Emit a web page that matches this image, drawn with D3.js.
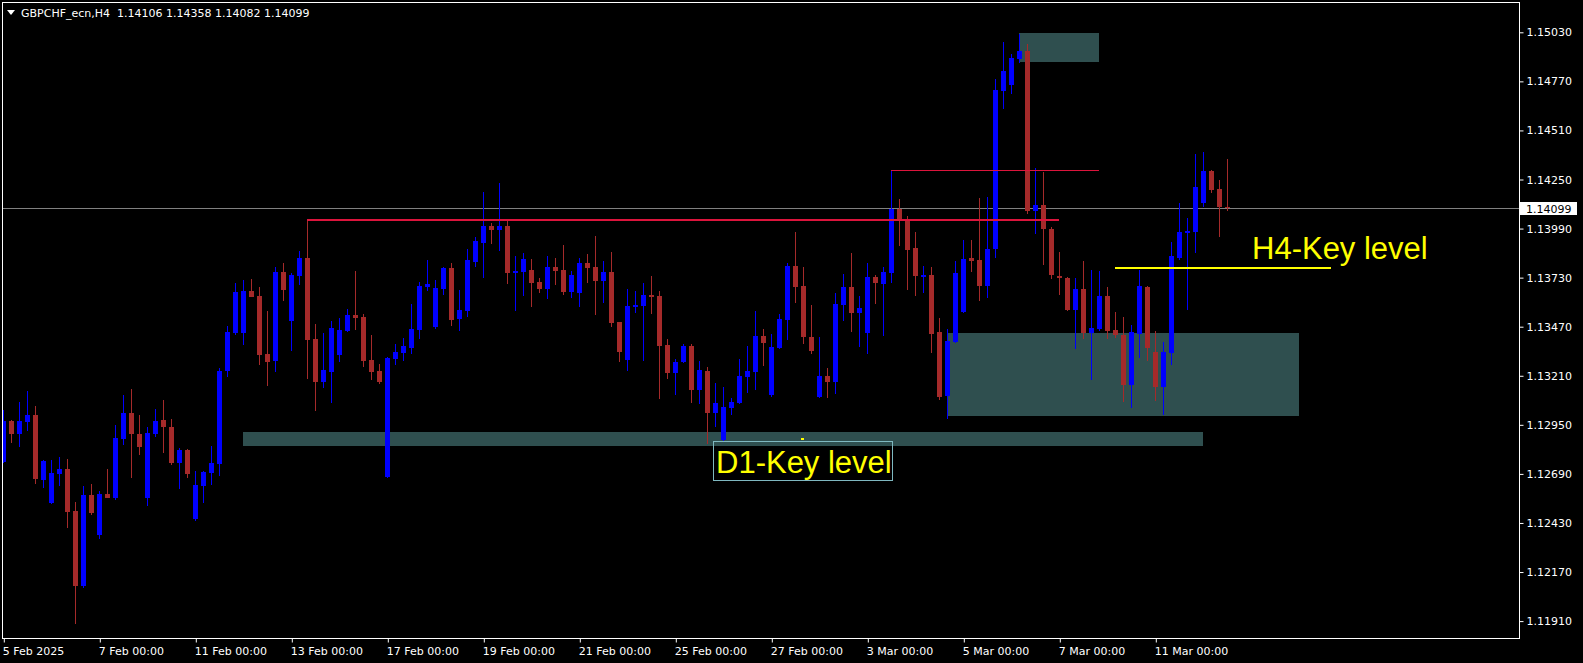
<!DOCTYPE html>
<html><head><meta charset="utf-8">
<script src="https://cdn.jsdelivr.net/npm/d3@7"></script>
<style>html,body{margin:0;padding:0;background:#000;overflow:hidden}</style>
</head><body>
<svg id="c" width="1583" height="663"></svg>
<script>
// ---- data (GBPCHF_ecn, H4) ----
const open=[1.12752,1.12970,1.12902,1.12966,1.13002,1.12659,1.12535,1.12690,1.12715,1.12493,
1.12095,1.12578,1.12366,1.12583,1.12563,1.12874,1.13012,1.12901,1.12563,1.12902,
1.12975,1.12938,1.12747,1.12816,1.12450,1.12625,1.12696,1.12743,1.13235,1.13436,
1.13436,1.13659,1.13632,1.13325,1.13288,1.13759,1.13500,1.13738,1.13834,1.13404,
1.13176,1.13229,1.13320,1.13447,1.13532,1.13521,1.13293,1.13235,1.12673,1.13298,
1.13330,1.13357,1.13452,1.13680,1.13468,1.13669,1.13781,1.13510,1.13553,1.13812,
1.13913,1.14003,1.13982,1.14003,1.13754,1.13759,1.13770,1.13706,1.13669,1.13786,
1.13770,1.13653,1.13648,1.13807,1.13786,1.13712,1.13759,1.13494,1.13293,1.13574,
1.13579,1.13638,1.13632,1.13373,1.13224,1.13282,1.13367,1.13134,1.13235,1.13012,
1.12869,1.13039,1.13065,1.13203,1.13229,1.13420,1.13108,1.13357,1.13505,1.13791,
1.13685,1.13415,1.13097,1.13208,1.13176,1.13584,1.13680,1.13542,1.13436,1.13733,
1.13696,1.13754,1.14093,1.14035,1.13887,1.13733,1.13744,1.13441,1.13102,1.13388,
1.13547,1.13834,1.13823,1.13685,1.13881,1.14719,1.14751,1.14888,1.14931,1.14083,
1.14115,1.13987,1.13738,1.13728,1.13558,1.13669,1.13436,1.13457,1.13632,1.13452,
1.13426,1.13161,1.13431,1.13680,1.13335,1.13150,1.13330,1.13834,1.13966,1.13971,
1.14125,1.14295,1.14199,1.14106];
const high=[1.13028,1.12975,1.13072,1.13129,1.13049,1.12763,1.12763,1.12779,1.12768,1.12540,
1.12625,1.12636,1.12599,1.12715,1.12949,1.13108,1.13139,1.13002,1.12938,1.13033,
1.13081,1.12980,1.12827,1.12821,1.12705,1.12705,1.12837,1.13251,1.13473,1.13701,
1.13717,1.13722,1.13680,1.13553,1.13786,1.13807,1.13754,1.13871,1.14035,1.13484,
1.13436,1.13500,1.13516,1.13563,1.13765,1.13537,1.13426,1.13272,1.13309,1.13378,
1.13410,1.13590,1.13706,1.13823,1.13717,1.13786,1.13807,1.13664,1.13881,1.13945,
1.14183,1.14019,1.14231,1.14035,1.13844,1.13860,1.13828,1.13728,1.13844,1.13834,
1.13903,1.13765,1.13834,1.13855,1.13950,1.13818,1.13865,1.13494,1.13669,1.13659,
1.13701,1.13738,1.13659,1.13404,1.13298,1.13378,1.13378,1.13288,1.13256,1.13171,
1.13150,1.13092,1.13298,1.13367,1.13553,1.13457,1.13431,1.13537,1.13807,1.13971,
1.13786,1.13584,1.13415,1.13251,1.13648,1.13749,1.13860,1.13632,1.13807,1.13744,
1.13786,1.14300,1.14146,1.14056,1.13971,1.13791,1.13786,1.13516,1.13457,1.13818,
1.13929,1.13929,1.14152,1.14157,1.14782,1.14978,1.14915,1.15021,1.14968,1.14311,
1.14289,1.13998,1.13865,1.13733,1.13728,1.13818,1.13770,1.13765,1.13680,1.13547,
1.13521,1.13479,1.13770,1.13685,1.13447,1.13388,1.13918,1.14125,1.14046,1.14385,
1.14395,1.14300,1.14247,1.14358];
const low=[1.12747,1.12855,1.12834,1.12918,1.12636,1.12616,1.12530,1.12625,1.12404,1.11894,
1.12088,1.12471,1.12344,1.12562,1.12551,1.12843,1.12668,1.12790,1.12521,1.12885,
1.12800,1.12737,1.12609,1.12669,1.12440,1.12535,1.12631,1.12680,1.13203,1.13426,
1.13373,1.13627,1.13267,1.13155,1.13229,1.13606,1.13341,1.13691,1.13192,1.13023,
1.13145,1.13065,1.13282,1.13441,1.13452,1.13256,1.13187,1.13166,1.12668,1.13267,
1.13288,1.13325,1.13404,1.13659,1.13460,1.13638,1.13473,1.13447,1.13521,1.13786,
1.13728,1.13908,1.13871,1.13696,1.13553,1.13632,1.13574,1.13648,1.13616,1.13691,
1.13638,1.13622,1.13574,1.13701,1.13532,1.13595,1.13468,1.13282,1.13235,1.13542,
1.13288,1.13537,1.13086,1.13192,1.13108,1.13277,1.13065,1.13060,1.12848,1.12938,
1.12865,1.13002,1.13060,1.13118,1.13134,1.13261,1.13100,1.13351,1.13399,1.13595,
1.13378,1.13325,1.13090,1.13092,1.13113,1.13500,1.13441,1.13362,1.13325,1.13590,
1.13420,1.13701,1.13897,1.13664,1.13632,1.13648,1.13330,1.13081,1.12980,1.13383,
1.13540,1.13759,1.13606,1.13622,1.13834,1.14623,1.14703,1.14867,1.14067,1.13961,
1.13797,1.13722,1.13638,1.13553,1.13351,1.13404,1.13187,1.13447,1.13404,1.13410,
1.13070,1.13039,1.13304,1.13288,1.13076,1.13002,1.13267,1.13823,1.13558,1.13860,
1.14104,1.14178,1.13945,1.14082];
const close=[1.12970,1.12902,1.12970,1.13002,1.12664,1.12758,1.12694,1.12715,1.12487,1.12095,
1.12578,1.12482,1.12583,1.12562,1.12880,1.13012,1.12901,1.12832,1.12906,1.12970,
1.12938,1.12747,1.12816,1.12690,1.12631,1.12699,1.12747,1.13235,1.13441,1.13653,
1.13659,1.13627,1.13320,1.13282,1.13759,1.13664,1.13744,1.13834,1.13399,1.13176,
1.13240,1.13463,1.13452,1.13532,1.13516,1.13288,1.13229,1.13176,1.13304,1.13335,
1.13367,1.13457,1.13685,1.13696,1.13675,1.13781,1.13505,1.13558,1.13823,1.13924,
1.14003,1.13982,1.14003,1.13754,1.13765,1.13828,1.13701,1.13669,1.13786,1.13765,
1.13653,1.13744,1.13807,1.13781,1.13712,1.13759,1.13489,1.13335,1.13579,1.13584,
1.13638,1.13627,1.13367,1.13224,1.13282,1.13367,1.13134,1.13240,1.13012,1.13065,
1.13044,1.13070,1.13208,1.13235,1.13420,1.13383,1.13362,1.13510,1.13791,1.13680,
1.13415,1.13341,1.13208,1.13176,1.13590,1.13680,1.13542,1.13569,1.13733,1.13701,
1.13759,1.14093,1.14035,1.13876,1.13738,1.13744,1.13431,1.13097,1.13394,1.13754,
1.13828,1.13818,1.13685,1.13881,1.14724,1.14825,1.14894,1.14931,1.14083,1.14115,
1.13987,1.13744,1.13728,1.13558,1.13669,1.13436,1.13463,1.13632,1.13447,1.13426,
1.13161,1.13441,1.13685,1.13357,1.13150,1.13335,1.13844,1.13971,1.13977,1.14210,
1.14295,1.14194,1.14104,1.14099];

const priceTicks=[1.15030,1.14770,1.14510,1.14250,1.13990,1.13730,1.13470,1.13210,1.12950,1.12690,1.12430,1.12170,1.11910];
const dateIdx=[0,12,24,36,48,60,72,84,96,108,120,132,144];
const dateLabels=["5 Feb 2025","7 Feb 00:00","11 Feb 00:00","13 Feb 00:00","17 Feb 00:00","19 Feb 00:00","21 Feb 00:00","25 Feb 00:00","27 Feb 00:00","3 Mar 00:00","5 Mar 00:00","7 Mar 00:00","11 Mar 00:00"];

// zones (bar index start/end, price top/bottom)
const zoneStart=[30,118,127];
const zoneEnd=[150,162,137];
const zoneTop=[1.12910,1.13437,1.15026];
const zoneBottom=[1.12838,1.12997,1.14873];

// levels
const levelPrice=[1.14035,1.14300,1.13781];
const levelStart=[38,111,139];
const levelEnd=[132,137,166];
const levelColor=["#DC143C","#DC143C","#FFFF00"];
const levelWidth=[2,1,2];

const bid=1.14099;
const title="GBPCHF_ecn,H4  1.14106 1.14358 1.14082 1.14099";

// ---- drawing ----
const svg=d3.select("#c");
const F={l:2.5,t:2.5,r:1519.5,b:638.5};
const x=d3.scaleLinear().domain([0,153]).range([3.3,1227.3]);
const y=d3.scaleLinear().domain([1.11910,1.15030]).range([621.1,32.3]);

svg.append("rect").attr("width",1583).attr("height",663).attr("fill","#000");
svg.append("defs").append("clipPath").attr("id","clip")
  .append("rect").attr("x",3).attr("y",3).attr("width",F.r-3).attr("height",F.b-3);
const g=svg.append("g").attr("clip-path","url(#clip)");

// zones
g.selectAll(".zone").data(d3.range(zoneStart.length)).join("rect")
  .attr("x",i=>Math.round(x(zoneStart[i])))
  .attr("width",i=>Math.round(x(zoneEnd[i]))-Math.round(x(zoneStart[i])))
  .attr("y",i=>Math.round(y(zoneTop[i])))
  .attr("height",i=>Math.round(y(zoneBottom[i]))-Math.round(y(zoneTop[i])))
  .attr("fill","#2F4F4F");

// bid line
g.append("line").attr("x1",3).attr("x2",F.r).attr("y1",Math.round(y(bid))+0.5).attr("y2",Math.round(y(bid))+0.5)
  .attr("stroke","#808080").attr("stroke-width",1);

// candles
const idx=d3.range(open.length);
const cg=g.append("g");
cg.selectAll(".wick").data(idx).join("rect")
  .attr("x",i=>Math.round(x(i)))
  .attr("width",1)
  .attr("y",i=>Math.round(y(high[i])))
  .attr("height",i=>Math.max(1,Math.round(y(low[i]))-Math.round(y(high[i]))))
  .attr("fill",i=>close[i]>=open[i]?"#0000FF":"#A52A2A");
cg.selectAll(".body").data(idx).join("rect")
  .attr("x",i=>Math.round(x(i))-2)
  .attr("width",5)
  .attr("y",i=>Math.round(y(Math.max(open[i],close[i]))))
  .attr("height",i=>Math.max(1,Math.round(y(Math.min(open[i],close[i])))-Math.round(y(Math.max(open[i],close[i])))))
  .attr("fill",i=>close[i]>=open[i]?"#0000FF":"#A52A2A");

// levels
g.selectAll(".lvl").data(d3.range(levelPrice.length)).join("line")
  .attr("x1",i=>Math.round(x(levelStart[i])))
  .attr("x2",i=>Math.round(x(levelEnd[i])))
  .attr("y1",i=>Math.round(y(levelPrice[i]))+(levelWidth[i]%2?0.5:0))
  .attr("y2",i=>Math.round(y(levelPrice[i]))+(levelWidth[i]%2?0.5:0))
  .attr("stroke",i=>levelColor[i]).attr("stroke-width",i=>levelWidth[i]);

// H4 label
g.append("text").attr("x",1252).attr("y",259).text("H4-Key level")
  .attr("fill","#FFFF00").attr("font-family","Liberation Sans, Arial, sans-serif").attr("font-size",31);

// D1 label box
g.append("rect").attr("x",713.5).attr("y",441.5).attr("width",179).attr("height",39)
  .attr("fill","none").attr("stroke","#7FB8C0").attr("stroke-width",1);
g.append("text").attr("x",716).attr("y",473).text("D1-Key level")
  .attr("fill","#FFFF00").attr("font-family","Liberation Sans, Arial, sans-serif").attr("font-size",31);
g.append("rect").attr("x",801).attr("y",438).attr("width",3).attr("height",2).attr("fill","#FFFF00");

// frame
svg.append("rect").attr("x",F.l).attr("y",F.t).attr("width",F.r-F.l).attr("height",F.b-F.t)
  .attr("fill","none").attr("stroke","#FFFFFF").attr("stroke-width",1);

// right axis
const ay=svg.append("g").attr("transform",`translate(${F.r},0)`)
  .call(d3.axisRight(y).tickValues(priceTicks).tickSize(4).tickPadding(3).tickFormat(d3.format(".5f")));
ay.select(".domain").remove();
ay.selectAll("line").attr("stroke","#fff");
ay.selectAll("text").attr("fill","#fff").attr("font-family","DejaVu Sans").attr("font-size",11);

// bid price label
svg.append("rect").attr("x",1520).attr("y",Math.round(y(bid))-6).attr("width",57).attr("height",13).attr("fill","#fff");
svg.append("text").attr("x",1526).attr("y",Math.round(y(bid))+4.5).text(d3.format(".5f")(bid))
  .attr("fill","#000").attr("font-family","DejaVu Sans").attr("font-size",11);

// bottom axis
const ax=svg.append("g").attr("transform",`translate(0,${F.b})`)
  .call(d3.axisBottom(x).tickValues(dateIdx).tickSize(4).tickPadding(5).tickFormat((d,i)=>dateLabels[i]));
ax.select(".domain").remove();
ax.selectAll("line").attr("stroke","#fff").attr("transform","translate(0.5,0)");
ax.selectAll("text").attr("fill","#fff").attr("font-family","DejaVu Sans").attr("font-size",11)
  .attr("text-anchor","start").attr("dx",-1);

// title
svg.append("path").attr("d","M7,10 L15,10 L11,15 Z").attr("fill","#fff");
svg.append("text").attr("x",21).attr("y",17).attr("xml:space","preserve").style("white-space","pre").text(title)
  .attr("fill","#fff").attr("font-family","DejaVu Sans").attr("font-size",11);
</script>
</body></html>
